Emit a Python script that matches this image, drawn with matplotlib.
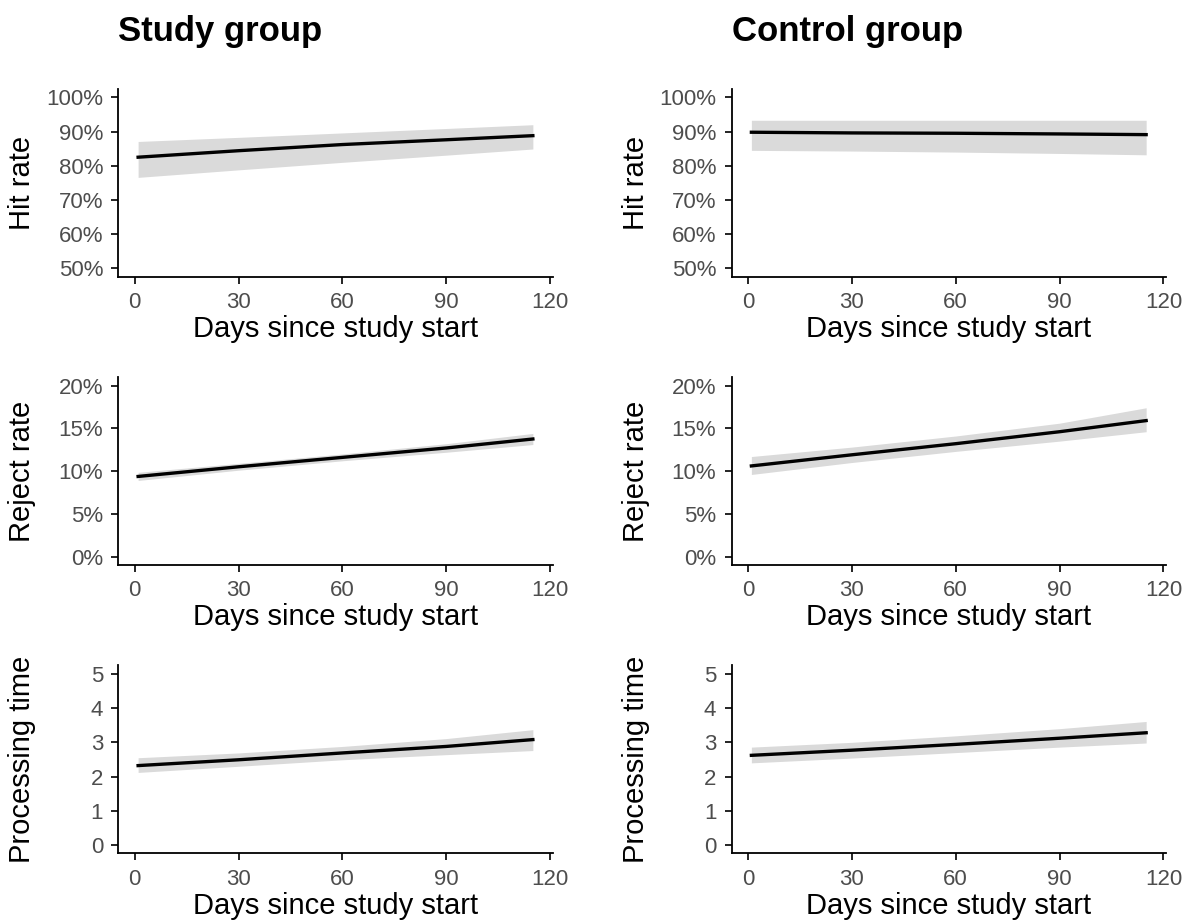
import numpy as np
import matplotlib
matplotlib.use('Agg')
import matplotlib.pyplot as plt
from matplotlib.ticker import FuncFormatter

plt.rcParams['font.family'] = ['Liberation Sans', 'DejaVu Sans']

days = [1, 30, 60, 90, 115]

# Study group
study_hit = [82.5, 84.4, 86.2, 87.6, 88.8]
study_hit_hi = [87.1, 88.3, 89.6, 90.9, 92.0]
study_hit_lo = [76.6, 78.8, 81.0, 83.1, 84.9]

study_rej = [9.37, 10.5, 11.6, 12.7, 13.75]
study_rej_hi = [9.85, 10.9, 12.0, 13.2, 14.4]
study_rej_lo = [8.9, 10.1, 11.2, 12.2, 13.1]

study_proc = [2.32, 2.49, 2.69, 2.88, 3.08]
study_proc_hi = [2.55, 2.69, 2.88, 3.11, 3.37]
study_proc_lo = [2.12, 2.30, 2.49, 2.64, 2.76]

# Control group
ctrl_hit = [89.8, 89.6, 89.5, 89.3, 89.1]
ctrl_hit_hi = [93.3, 93.3, 93.3, 93.3, 93.3]
ctrl_hit_lo = [84.5, 84.3, 84.0, 83.6, 83.2]

ctrl_rej = [10.6, 11.9, 13.2, 14.6, 15.9]
ctrl_rej_hi = [11.7, 12.8, 14.1, 15.6, 17.4]
ctrl_rej_lo = [9.6, 11.0, 12.3, 13.5, 14.6]

ctrl_proc = [2.62, 2.77, 2.94, 3.12, 3.28]
ctrl_proc_hi = [2.86, 3.00, 3.19, 3.40, 3.61]
ctrl_proc_lo = [2.40, 2.54, 2.70, 2.86, 2.98]

x_ticks = [0, 30, 60, 90, 120]
hit_ticks = [50, 60, 70, 80, 90, 100]
rej_ticks = [0, 5, 10, 15, 20]
proc_ticks = [0, 1, 2, 3, 4, 5]

group_titles = ['Study group', 'Control group']
row_labels = ['Hit rate', 'Reject rate', 'Processing time']
x_label = 'Days since study start'

fig = plt.figure(figsize=(11.92, 9.24), dpi=100)

lefts = [0.0993, 0.6138]
width = 0.3643
bottoms = [0.7003, 0.3884, 0.0763]
height = 0.2036

pct = FuncFormatter(lambda v, p: f'{v:.0f}%')

rows = [
    (study_hit, study_hit_lo, study_hit_hi, ctrl_hit, ctrl_hit_lo, ctrl_hit_hi, hit_ticks, (47.5, 102.5), pct),
    (study_rej, study_rej_lo, study_rej_hi, ctrl_rej, ctrl_rej_lo, ctrl_rej_hi, rej_ticks, (-1, 21), pct),
    (study_proc, study_proc_lo, study_proc_hi, ctrl_proc, ctrl_proc_lo, ctrl_proc_hi, proc_ticks, (-0.25, 5.25), None),
]

for r, row in enumerate(rows):
    s, s_lo, s_hi, c, c_lo, c_hi, yt, ylim, fmt = row
    for col, (line, lo, hi) in enumerate([(s, s_lo, s_hi), (c, c_lo, c_hi)]):
        ax = fig.add_axes([lefts[col], bottoms[r], width, height])
        ax.fill_between(days, lo, hi, color='#dadada', linewidth=0)
        ax.plot(days, line, color='black', linewidth=2.4)
        ax.set_xlim(-4.7, 120.7)
        ax.set_ylim(*ylim)
        ax.set_xticks(x_ticks)
        ax.set_yticks(yt)
        if fmt is not None:
            ax.yaxis.set_major_formatter(fmt)
        for side in ['top', 'right']:
            ax.spines[side].set_visible(False)
        for side in ['left', 'bottom']:
            ax.spines[side].set_linewidth(1.3)
        ax.tick_params(length=5, width=1.2, labelsize=16, labelcolor='#4d4d4d', pad=6)
        ax.set_xlabel(x_label, fontsize=21, va='center')
        ax.xaxis.set_label_coords(0.5, -52 / 188)
        ax.set_ylabel(row_labels[r], fontsize=21, va='center')
        ax.yaxis.set_label_coords(-96 / 434, 0.5)
        if r == 0:
            fig.text(lefts[col], 1 - 32 / 924, group_titles[col], fontsize=25,
                     fontweight='bold', ha='left', va='center')

fig.savefig('out.png', dpi=100)
